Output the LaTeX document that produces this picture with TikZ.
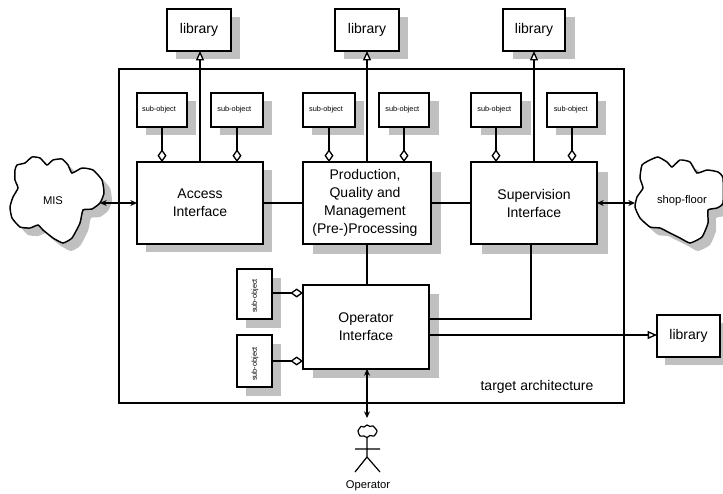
\documentclass[tikz,border=0pt]{standalone}
\usepackage{fontspec}
\setmainfont{Liberation Sans}
\usetikzlibrary{arrows.meta,shadows,calc}
\definecolor{sgray}{HTML}{C0C0C0}
\def\px{0.75pt}
\newcommand\subobj[1]{\kern#1pt sub-object}
\tikzset{
  every node/.style={inner sep=0pt,outer sep=0pt},
  main/.style={font=\fontsize{10.5}{13.5}\selectfont,align=center},
  small/.style={font=\fontsize{5.5}{7}\selectfont},
  lab/.style={font=\fontsize{8.4}{10}\selectfont},
  bx/.style n args={4}{draw=black,line width=1.1pt,fill=white,
    minimum width=#1*\px,minimum height=#2*\px,
    general shadow={shadow xshift=#3*\px,shadow yshift=-#4*\px,fill=sgray,draw=none}},
  conn/.style={line width=1.1pt},
  thin conn/.style={line width=0.9pt},
  has/.style={conn,-{Diamond[length=9.5pt,width=6.8pt,fill=white,line width=1pt]}},
  inh/.style={conn,-{Triangle[length=7pt,width=6pt,fill=white,line width=1pt]}},
  both/.style={line width=1.1pt,{Stealth[length=5pt,width=4.5pt]}-{Stealth[length=5pt,width=4.5pt]}},
}
\def\mispath{plot[smooth cycle,tension=0.3] coordinates{(15,170)(17,165)(25,163)(32,157)(40,158)(47,165)(53,160)(62,159)(68,165)(72,173)(82,168)(93,170)(102,180)(104,193)(100,203)(92,209)(83,210)(80,223)(72,238)(63,243)(53,238)(43,230)(38,225)(30,228)(20,227)(12,218)(10,207)(13,197)(18,188)(15,180)}}
\def\shoppath{plot[smooth cycle,tension=0.3] coordinates{(642,165)(650,160)(658,157)(667,162)(672,167)(680,160)(690,162)(697,173)(707,170)(718,172)(723,178)(723,203)(717,208)(708,210)(708,223)(702,237)(690,243)(680,238)(668,232)(660,228)(650,227)(640,218)(635,207)(637,197)(643,188)(640,178)}}
\begin{document}
\begin{tikzpicture}[x=0.75pt,y=-0.75pt]
\useasboundingbox (0,0) rectangle (723,493);
% outer frame
\node[draw=black,line width=1.1pt,minimum width=505*\px,minimum height=334*\px] (frame) at (371.5,236) {};
% clouds
\fill[sgray,shift={(8,8)}] \mispath;
\draw[conn,fill=white] \mispath;
\fill[sgray,shift={(8,8)}] \shoppath;
\draw[conn,fill=white] \shoppath;
\node[lab] (mis) at (53,201) {MIS};
\node[lab] (shop) at (682,201) {shop-floor};
\coordinate (misE) at (100,203);
\coordinate (shopW) at (635,203);
% libraries
\node[bx={64}{42}{9}{8},main] (lib1) at (199,30) {library};
\node[bx={64}{42}{9}{8},main] (lib2) at (367,30) {library};
\node[bx={62}{42}{10}{8},main] (lib3) at (534,30) {library};
\node[bx={63}{42}{8}{8},main] (lib4) at (688.5,336) {library};
% sub-objects
\node[bx={50}{34}{9}{8},small] (s1) at (162,110) {\subobj{-4.5}};
\node[bx={52}{34}{9}{8},small] (s2) at (237,110) {\subobj{-4}};
\node[bx={52}{34}{9}{8},small] (s3) at (329,110) {\subobj{-4.5}};
\node[bx={50}{34}{10}{8},small] (s4) at (404,110) {\subobj{-2.5}};
\node[bx={50}{34}{10}{8},small] (s5) at (496,110) {\subobj{-2.5}};
\node[bx={50}{34}{9}{8},small] (s6) at (572,110) {\subobj{-2}};
% interfaces
\node[bx={126}{82}{9}{8},main] (acc) at (200,203) {Access\\Interface};
\node[bx={128}{82}{9.5}{10},main] (prod) at (367,203) {\kern-3pt\relax Production,\\\kern-3pt\relax Quality and\\\kern-3pt\relax Management\\\kern-3pt\relax (Pre-)Processing};
\node[bx={126}{82}{10.5}{10},main] (sup) at (534,203) {Supervision\\Interface};
\node[bx={126}{84}{10}{9},main] (op) at (366,327) {Operator\\Interface};
% vertical sub-objects
\node[bx={35}{50}{8.5}{9}] (v1) at (254.5,294) {};
\node[bx={35}{52}{8.5}{9}] (v2) at (254.5,361) {};
\node[small,rotate=90] (v1t) at (255,296) {sub-object};
\node[small,rotate=90] (v2t) at (255,364) {sub-object};
% labels
\node[main] (target) at (537,387) {target architecture};
\node[lab] (oplabel) at (368,486) {Operator};
% actor
\draw[thin conn] plot[smooth cycle,tension=0.4] coordinates{(358,431)(361,426.5)(364,427)(367,425)(370,426.5)(373,426)(377,431)(374,436)(370,435.5)(367,437.5)(364,436)(360,436)};
\coordinate (head) at (367,437.5);
\coordinate (hip) at (367,457);
\coordinate (armL) at (355,449);
\coordinate (armR) at (380,449);
\coordinate (legL) at (355,472);
\coordinate (legR) at (380,472);
\coordinate (opTop) at (367,418);
\draw[thin conn] (head) -- (hip) (armL) -- (armR) (legL) -- (hip) -- (legR);
% connectors
\draw[inh] (acc.north) -- (acc.north |- lib1.south);
\draw[inh] (prod.north) -- (lib2.south);
\draw[inh] (sup.north) -- (lib3.south);
\foreach \a/\b in {s1/acc,s2/acc,s3/prod,s4/prod,s5/sup,s6/sup}
  \draw[has] (\a.south) -- (\a.south |- \b.north);
\draw[conn] (acc.east) -- (prod.west);
\draw[conn] (prod.east) -- (sup.west);
\draw[conn] (prod.south) -- (prod.south |- op.north);
\draw[conn] ($(sup.south)+(-3,0)$) |- ($(op.east)+(0,-8)$);
\draw[inh] ($(op.east)+(0,8)$) -- (lib4.west |- 0,335);
\draw[has] (v1.east |- 0,293) -- (op.west |- 0,293);
\draw[has] (v2.east |- 0,361) -- (op.west |- 0,361);
\draw[both] (misE) -- (acc.west);
\draw[both] (sup.east) -- (shopW);
\draw[both] (op.south -| opTop) -- (opTop);
\end{tikzpicture}
\end{document}
